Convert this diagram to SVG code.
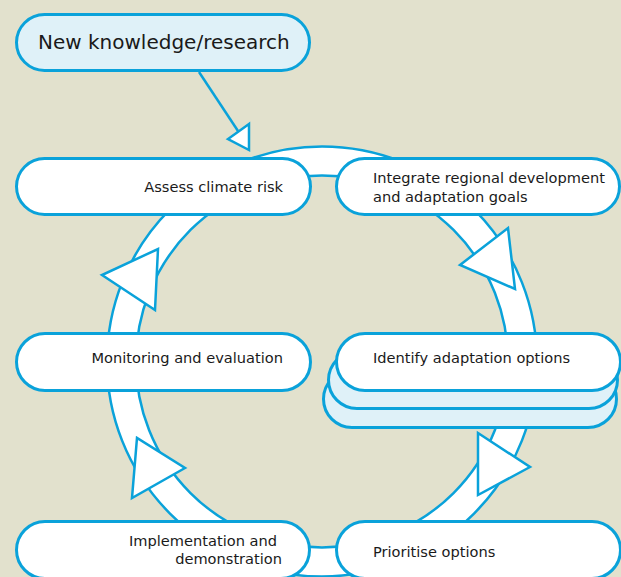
<svg xmlns="http://www.w3.org/2000/svg" width="621" height="577" viewBox="0 0 621 577">
<style>
.bg{fill:#E2E1CD}
.pill{fill:#FFFFFF;stroke:#0AA2DA;stroke-width:3}
.pill-lt{fill:#DFF1F8;stroke:#0AA2DA;stroke-width:3}
.ring{fill:#FFFFFF;stroke:#0AA2DA;stroke-width:2.5;fill-rule:evenodd}
.head{fill:#FFFFFF;stroke:#0AA2DA;stroke-width:2.5;stroke-linejoin:miter}
.conn{fill:none;stroke:#0AA2DA;stroke-width:2.5}
text{font-family:"DejaVu Sans","Liberation Sans",sans-serif;font-size:14.6px;fill:#1A1A1A}
.big{font-size:20px}
</style>
<rect class="bg" x="0" y="0" width="621" height="577"/>
<g id="connectors">
  <path class="ring" d="M107,361.5 a215,215 0 1,0 430,0 a215,215 0 1,0 -430,0 Z M136,361.5 a186,186 0 1,0 372,0 a186,186 0 1,0 -372,0 Z"/>
  <polygon class="head" points="460,265 508,228 515,289"/>
  <polygon class="head" points="478,433 530,467 478,495"/>
  <polygon class="head" points="185,468 132,498 137,438"/>
  <polygon class="head" points="102,275 155,310 158,249"/>
  <line class="conn" x1="199" y1="72" x2="238" y2="131"/>
  <polygon class="head" points="249,124 228,139 249,150"/>
</g>
<g id="node-new-knowledge">
  <rect class="pill-lt" x="16.5" y="14.5" width="293" height="56" rx="28"/>
  <text class="big" x="38" y="49">New knowledge/research</text>
</g>
<g id="node-assess">
  <rect class="pill" x="16.5" y="158.5" width="294" height="56" rx="28"/>
  <text x="283" y="192" text-anchor="end">Assess climate risk</text>
</g>
<g id="node-integrate">
  <rect class="pill" x="336.5" y="158.5" width="283" height="56" rx="28"/>
  <text x="373" y="183">Integrate regional development</text>
  <text x="373" y="202">and adaptation goals</text>
</g>
<g id="node-monitoring">
  <rect class="pill" x="16.5" y="333.5" width="294" height="57" rx="28.5"/>
  <text x="283" y="363" text-anchor="end">Monitoring and evaluation</text>
</g>
<g id="node-identify">
  <rect class="pill-lt" x="323.5" y="370.5" width="293" height="57" rx="28.5"/>
  <rect class="pill-lt" x="328.5" y="351.5" width="289" height="57" rx="28.5"/>
  <rect class="pill" x="336.5" y="333.5" width="284" height="57" rx="28.5"/>
  <text x="373" y="363">Identify adaptation options</text>
</g>
<g id="node-implementation">
  <rect class="pill" x="16.5" y="521.5" width="293" height="57" rx="28.5"/>
  <text x="277" y="546" text-anchor="end">Implementation and</text>
  <text x="282" y="564" text-anchor="end">demonstration</text>
</g>
<g id="node-prioritise">
  <rect class="pill" x="336.5" y="521.5" width="284" height="57" rx="28.5"/>
  <text x="373" y="557">Prioritise options</text>
</g>
</svg>
